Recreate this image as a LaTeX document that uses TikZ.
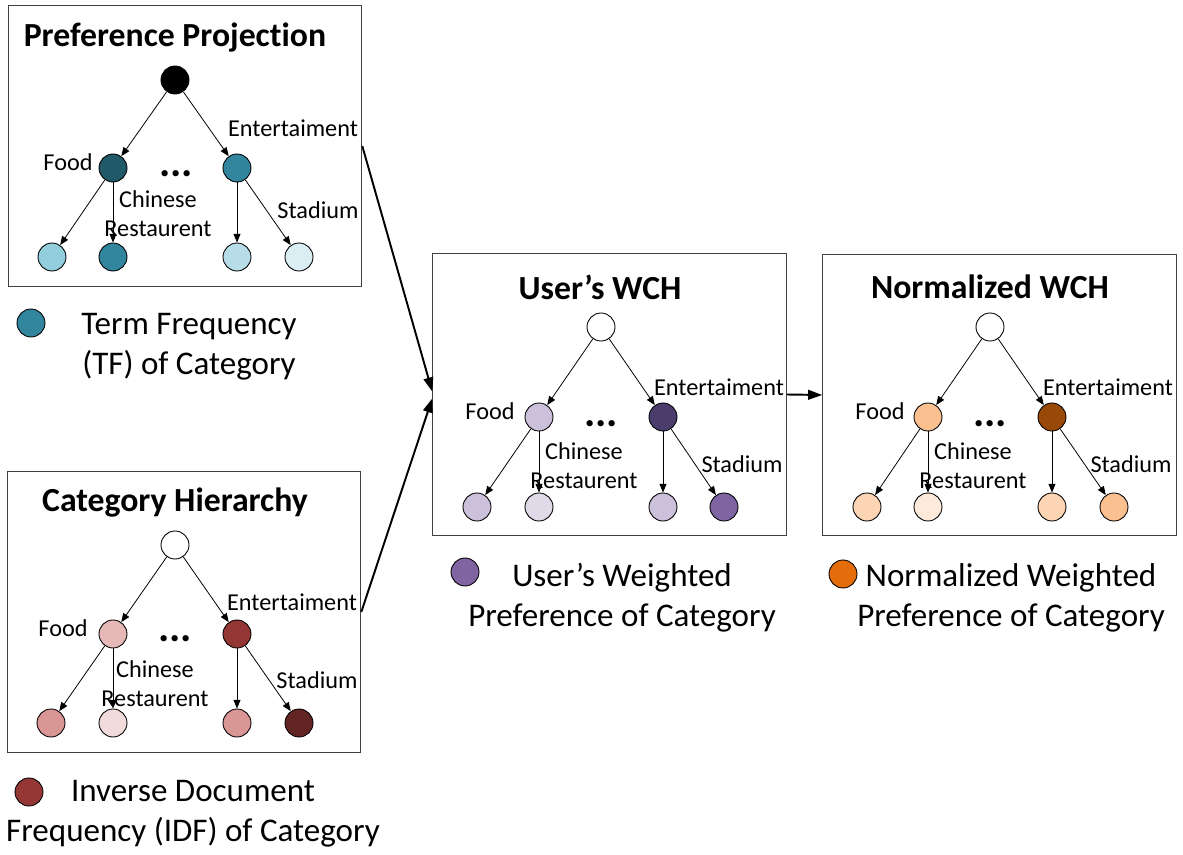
\documentclass[tikz,border=0pt]{standalone}
\usepackage{fontspec}
\setmainfont{Carlito}[Ligatures=NoCommon]
\usepackage{xcolor}
\usepackage{tikz}
\usetikzlibrary{arrows.meta, positioning}

\definecolor{tfdark}{HTML}{215968}
\definecolor{tfmid}{HTML}{31859C}
\definecolor{tflight}{HTML}{92CDDC}
\definecolor{tfpale}{HTML}{B7DEE8}
\definecolor{tfwhite}{HTML}{DBEEF3}
\definecolor{idfdark}{HTML}{632523}
\definecolor{idfmid}{HTML}{943634}
\definecolor{idflight}{HTML}{D99694}
\definecolor{idfpale}{HTML}{E6B9B8}
\definecolor{idfwhite}{HTML}{F2DCDB}
\definecolor{wdark}{HTML}{4B3D6B}
\definecolor{wmid}{HTML}{8064A2}
\definecolor{wlight}{HTML}{CCC1DA}
\definecolor{wpale}{HTML}{E0DAE8}
\definecolor{ndark}{HTML}{984807}
\definecolor{nmid}{HTML}{E46C0A}
\definecolor{nlight}{HTML}{FAC090}
\definecolor{npale}{HTML}{FCD5B5}
\definecolor{nwhite}{HTML}{FDEADA}

\begin{document}
\begin{tikzpicture}[
  >={Triangle[width=4pt,length=5pt]}, line width=0.45pt,
  ptnode/.style={circle, draw, line width=0.5pt, inner sep=0pt, minimum size=0.56cm},
  boxnode/.style={draw=black!75, line width=0.6pt, minimum width=7.07cm, minimum height=5.63cm},
  ttl/.style={font=\fontsize{19.2}{22}\selectfont\bfseries},
  lbl/.style={font=\fontsize{13.8}{16.5}\selectfont, align=center, inner sep=0pt},
  dots/.style={font=\fontsize{24}{26}\selectfont\bfseries},
  legtext/.style={font=\fontsize{18.8}{22.8}\selectfont, align=center, inner sep=0pt},
  bigarrow/.style={-{Triangle[width=5.5pt,length=8pt]}, line width=1.1pt}
]
\useasboundingbox (0,0) rectangle (23.66,-17.10);

\node[boxnode] (PPbox) at (3.70,-2.92) {};
\node[boxnode] (CHbox) at (3.68,-12.24) {};
\node[boxnode] (UWbox) at (12.19,-7.89) {};
\node[boxnode] (NWbox) at (19.99,-7.90) {};

\node[ttl] (PPtitle) at (3.50,-0.76) {Preference Projection};
\node[ptnode, fill=black] (PProot) at (3.50,-1.60) {};
\node[ptnode, fill=tfdark] (PPfood) at (2.26,-3.36) {};
\node[ptnode, fill=tfmid] (PPent) at (4.74,-3.36) {};
\node[ptnode, fill=tflight] (PPl1) at (1.04,-5.14) {};
\node[ptnode, fill=tfmid] (PPl2) at (2.26,-5.14) {};
\node[ptnode, fill=tfpale] (PPl3) at (4.74,-5.14) {};
\node[ptnode, fill=tfwhite] (PPl4) at (5.98,-5.14) {};
\draw[->] (PProot) -- (PPfood);
\draw[->] (PProot) -- (PPent);
\draw[->] (PPfood) -- (PPl1);
\draw[->] (PPfood) -- (PPl2);
\draw[->] (PPent) -- (PPl3);
\draw[->] (PPent) -- (PPl4);
\node[lbl] (PPfoodlbl) at (1.36,-3.24) {Food};
\node[lbl] (PPentlbl) at (5.86,-2.56) {Entertaiment};
\node[lbl] (PPcrlbl) at (3.16,-4.28) {Chinese\\Restaurent};
\node[lbl] (PPstlbl) at (6.36,-4.20) {Stadium};
\node[dots] (PPdots) at (3.52,-3.47) {...};

\node[ttl] (CHtitle) at (3.50,-10.06) {Category Hierarchy};
\node[ptnode, fill=white] (CHroot) at (3.50,-10.90) {};
\node[ptnode, fill=idfpale] (CHfood) at (2.26,-12.68) {};
\node[ptnode, fill=idfmid] (CHent) at (4.74,-12.68) {};
\node[ptnode, fill=idflight] (CHl1) at (1.02,-14.46) {};
\node[ptnode, fill=idfwhite] (CHl2) at (2.26,-14.46) {};
\node[ptnode, fill=idflight] (CHl3) at (4.74,-14.46) {};
\node[ptnode, fill=idfdark] (CHl4) at (5.98,-14.46) {};
\draw[->] (CHroot) -- (CHfood);
\draw[->] (CHroot) -- (CHent);
\draw[->] (CHfood) -- (CHl1);
\draw[->] (CHfood) -- (CHl2);
\draw[->] (CHent) -- (CHl3);
\draw[->] (CHent) -- (CHl4);
\node[lbl] (CHfoodlbl) at (1.26,-12.56) {Food};
\node[lbl] (CHentlbl) at (5.84,-12.04) {Entertaiment};
\node[lbl] (CHcrlbl) at (3.10,-13.68) {Chinese\\Restaurent};
\node[lbl] (CHstlbl) at (6.34,-13.60) {Stadium};
\node[dots] (CHdots) at (3.50,-12.77) {...};

\node[ttl] (UWtitle) at (12.00,-5.74) {User’s WCH};
\node[ptnode, fill=white] (UWroot) at (12.02,-6.54) {};
\node[ptnode, fill=wlight] (UWfood) at (10.78,-8.34) {};
\node[ptnode, fill=wdark] (UWent) at (13.26,-8.34) {};
\node[ptnode, fill=wlight] (UWl1) at (9.54,-10.14) {};
\node[ptnode, fill=wpale] (UWl2) at (10.78,-10.14) {};
\node[ptnode, fill=wlight] (UWl3) at (13.26,-10.14) {};
\node[ptnode, fill=wmid] (UWl4) at (14.48,-10.14) {};
\draw[->] (UWroot) -- (UWfood);
\draw[->] (UWroot) -- (UWent);
\draw[->] (UWfood) -- (UWl1);
\draw[->] (UWfood) -- (UWl2);
\draw[->] (UWent) -- (UWl3);
\draw[->] (UWent) -- (UWl4);
\node[lbl] (UWfoodlbl) at (9.80,-8.22) {Food};
\node[lbl] (UWentlbl) at (14.38,-7.74) {Entertaiment};
\node[lbl] (UWcrlbl) at (11.68,-9.32) {Chinese\\Restaurent};
\node[lbl] (UWstlbl) at (14.84,-9.28) {Stadium};
\node[dots] (UWdots) at (12.02,-8.47) {...};

\node[ttl] (NWtitle) at (19.80,-5.74) {Normalized WCH};
\node[ptnode, fill=white] (NWroot) at (19.80,-6.54) {};
\node[ptnode, fill=nlight] (NWfood) at (18.56,-8.34) {};
\node[ptnode, fill=ndark] (NWent) at (21.04,-8.34) {};
\node[ptnode, fill=npale] (NWl1) at (17.34,-10.14) {};
\node[ptnode, fill=nwhite] (NWl2) at (18.56,-10.14) {};
\node[ptnode, fill=npale] (NWl3) at (21.04,-10.14) {};
\node[ptnode, fill=nlight] (NWl4) at (22.28,-10.14) {};
\draw[->] (NWroot) -- (NWfood);
\draw[->] (NWroot) -- (NWent);
\draw[->] (NWfood) -- (NWl1);
\draw[->] (NWfood) -- (NWl2);
\draw[->] (NWent) -- (NWl3);
\draw[->] (NWent) -- (NWl4);
\node[lbl] (NWfoodlbl) at (17.60,-8.22) {Food};
\node[lbl] (NWentlbl) at (22.16,-7.74) {Entertaiment};
\node[lbl] (NWcrlbl) at (19.46,-9.32) {Chinese\\Restaurent};
\node[lbl] (NWstlbl) at (22.62,-9.28) {Stadium};
\node[dots] (NWdots) at (19.80,-8.47) {...};

\draw[bigarrow] (PPbox.east) -- ([yshift=0.06cm]UWbox.west);
\draw[bigarrow] (CHbox.east) -- ([yshift=-0.08cm]UWbox.west);
\draw[bigarrow] (UWbox.east) -- (NWbox.west);

\node[ptnode, fill=tfmid] (TFkey) at (0.62,-6.46) {};
\node[legtext] (TFtext) at (3.78,-6.94) {Term Frequency\\(TF) of Category};
\node[ptnode, fill=idfmid] (IDFkey) at (0.58,-15.84) {};
\node[legtext] (IDFtext) at (3.86,-16.28) {Inverse Document\\Frequency (IDF) of Category};
\node[ptnode, fill=wmid] (UWkey) at (9.30,-11.44) {};
\node[legtext] (UWtext) at (12.44,-11.96) {User’s Weighted\\Preference of Category};
\node[ptnode, fill=nmid] (NWkey) at (16.86,-11.48) {};
\node[legtext] (NWtext) at (20.22,-11.96) {Normalized Weighted\\Preference of Category};
\end{tikzpicture}
\end{document}
